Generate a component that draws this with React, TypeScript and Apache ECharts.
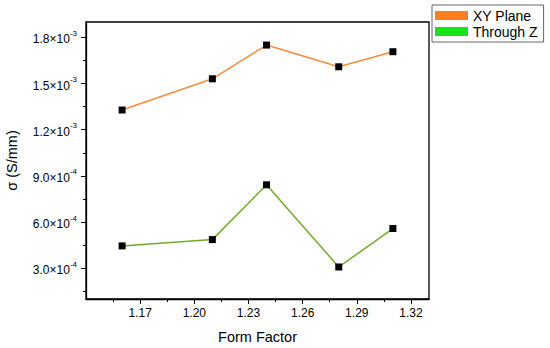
import React, { useEffect, useRef } from "react";
import * as echarts from "echarts";

const formFactor = [1.16, 1.21, 1.24, 1.28, 1.31];
const xyPlane = [1.328e-3, 1.531e-3, 1.75e-3, 1.609e-3, 1.707e-3];
const throughZ = [0.445e-3, 0.486e-3, 0.842e-3, 0.308e-3, 0.558e-3];
const xTicks = [1.17, 1.2, 1.23, 1.26, 1.29, 1.32];
const xMinorTicks = [1.155, 1.185, 1.215, 1.245, 1.275, 1.305];
const yTicks = [3e-4, 6e-4, 9e-4, 1.2e-3, 1.5e-3, 1.8e-3];
const yMinorTicks = [1.5e-4, 4.5e-4, 7.5e-4, 1.05e-3, 1.35e-3, 1.65e-3];
const seriesNames = ["XY Plane", "Through Z"];

const FONT = "Liberation Sans, Arial, sans-serif";

function sciLabel(v: number): string {
  const exp = Math.floor(Math.log10(v) + 1e-9);
  const mant = (v / Math.pow(10, exp)).toFixed(1);
  return `{m|${mant}×10}{s|${exp}}`;
}

export default function App() {
  const ref = useRef<HTMLDivElement>(null);
  useEffect(() => {
    if (!ref.current) return;
    const chart = echarts.init(ref.current, undefined, { renderer: "svg" });
    const axisCommon = {
      axisLine: { show: true, lineStyle: { color: "#000", width: 1.3 } },
      splitLine: { show: false },
    };
    chart.setOption({
      animation: false,
      backgroundColor: "#fff",
      grid: {
        left: 86,
        top: 22,
        right: 121,
        bottom: 49,
        show: true,
        containLabel: false,
        outerBoundsMode: "none",
        borderColor: "#000",
        borderWidth: 1.3,
        backgroundColor: "transparent",
      },
      legend: {
        orient: "vertical",
        left: 432,
        top: 5,
        icon: "rect",
        itemWidth: 33,
        itemHeight: 9,
        itemGap: 1,
        padding: [3, 6, 3, 3],
        borderColor: "#666",
        borderWidth: 1,
        backgroundColor: "#fff",
        textStyle: { fontFamily: FONT, fontSize: 14, lineHeight: 15, color: "#000" },
        data: [
          { name: seriesNames[0], itemStyle: { color: "#ff7f1e" } },
          { name: seriesNames[1], itemStyle: { color: "#17e317" } },
        ],
      },
      xAxis: [
        {
          type: "value",
          min: 1.14,
          max: 1.33,
          name: "Form Factor",
          nameLocation: "middle",
          nameGap: 30,
          nameTextStyle: { fontFamily: FONT, fontSize: 14.5, color: "#000" },
          ...axisCommon,
          axisTick: {
            show: true,
            inside: false,
            length: 5,
            customValues: xTicks,
            lineStyle: { color: "#000" },
          },
          axisLabel: {
            customValues: xTicks,
            margin: 8,
            fontFamily: FONT,
            fontSize: 12,
            color: "#000",
            formatter: (v: number) => v.toFixed(2),
          },
        },
        {
          type: "value",
          min: 1.14,
          max: 1.33,
          position: "bottom",
          axisLine: { show: false },
          splitLine: { show: false },
          axisLabel: { show: false },
          axisTick: {
            show: true,
            length: 3,
            customValues: xMinorTicks,
            lineStyle: { color: "#000" },
          },
        },
      ],
      yAxis: [
        {
          type: "value",
          min: 1e-4,
          max: 1.9e-3,
          name: "σ (S/mm)",
          nameLocation: "middle",
          nameGap: 67,
          nameRotate: 90,
          nameTextStyle: { fontFamily: FONT, fontSize: 14.5, color: "#000" },
          ...axisCommon,
          axisTick: {
            show: true,
            length: 5,
            customValues: yTicks,
            lineStyle: { color: "#000" },
          },
          axisLabel: {
            customValues: yTicks,
            margin: 9,
            formatter: (v: number) => sciLabel(v),
            rich: {
              m: { fontFamily: FONT, fontSize: 12, color: "#000", lineHeight: 16, verticalAlign: "bottom" },
              s: { fontFamily: FONT, fontSize: 8, color: "#000", verticalAlign: "top", lineHeight: 16 },
            },
          },
        },
        {
          type: "value",
          min: 1e-4,
          max: 1.9e-3,
          position: "left",
          axisLine: { show: false },
          splitLine: { show: false },
          axisLabel: { show: false },
          axisTick: {
            show: true,
            length: 3,
            customValues: yMinorTicks,
            lineStyle: { color: "#000" },
          },
        },
      ],
      series: [
        {
          name: seriesNames[0],
          type: "line",
          data: formFactor.map((x, i) => [x, xyPlane[i]]),
          symbol: "rect",
          symbolSize: 7,
          lineStyle: { color: "#fa8a3c", width: 1.5 },
          itemStyle: { color: "#000" },
          z: 3,
        },
        {
          name: seriesNames[1],
          type: "line",
          data: formFactor.map((x, i) => [x, throughZ[i]]),
          symbol: "rect",
          symbolSize: 7,
          lineStyle: { color: "#72a92c", width: 1.5 },
          itemStyle: { color: "#000" },
          z: 3,
        },
      ],
    });
    return () => chart.dispose();
  }, []);
  return <div ref={ref} style={{ width: 550, height: 348, position: "fixed", left: 0, top: 0 }} />;
}
